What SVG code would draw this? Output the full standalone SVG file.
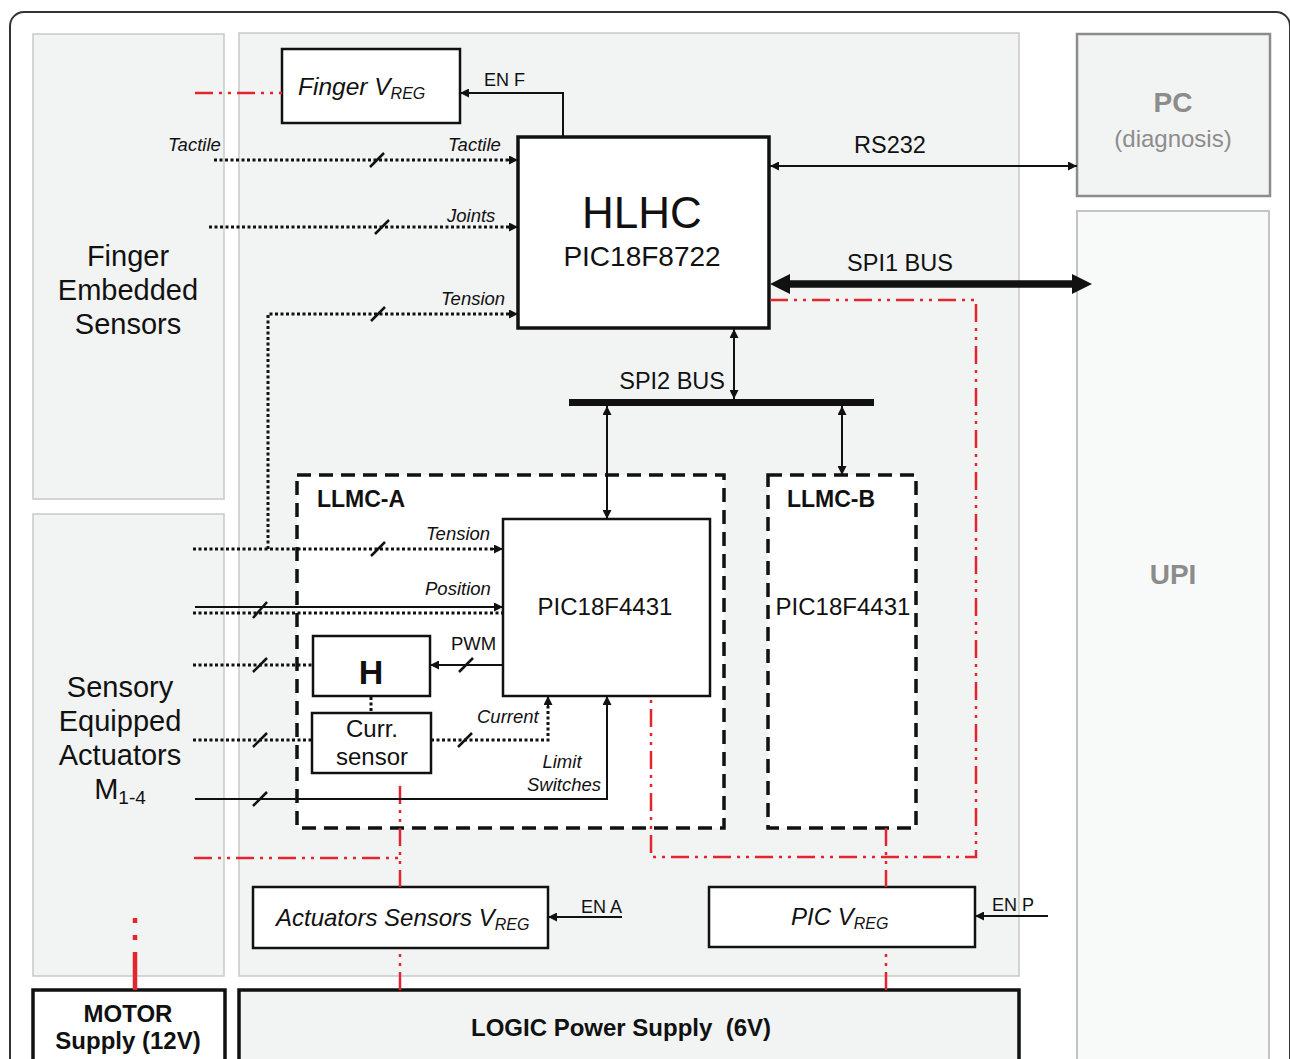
<svg xmlns="http://www.w3.org/2000/svg" width="1290" height="1059" viewBox="0 0 1290 1059">
<defs>
<marker id="arr" viewBox="0 0 10 10" refX="10" refY="5" markerWidth="9" markerHeight="9" markerUnits="userSpaceOnUse" orient="auto-start-reverse">
<path d="M0,0 L10,5 L0,10 z" fill="#111"/>
</marker>
<style>
.panel{fill:#f2f3f3;stroke:#c9c9c9;stroke-width:1.5}
.box{fill:#fff;stroke:#111;stroke-width:2.5}
.thick{fill:#fff;stroke:#111;stroke-width:3.5}
.dash{fill:#fff;stroke:#111;stroke-width:3.5;stroke-dasharray:14 8}
.dot{fill:none;stroke:#111;stroke-width:3;stroke-dasharray:3 2.5}
.sol{fill:none;stroke:#111;stroke-width:2}
.sl{stroke:#111;stroke-width:2.5}
.red{fill:none;stroke:#e3262e;stroke-width:2.5;stroke-dasharray:18 6 3 6 3 6}
.t{font-family:"Liberation Sans",Arial,sans-serif;fill:#111}
.it{font-family:"Liberation Sans",Arial,sans-serif;font-style:italic;fill:#111;font-size:18.5px}
.b{font-weight:bold}
.g{fill:#8c8c8c}
</style>
</defs>

<rect x="10" y="12" width="1280" height="1100" rx="14" fill="#fff" stroke="#333" stroke-width="2"/>

<g id="finger-sensors">
<rect class="panel" x="33" y="34" width="191" height="465"/>
<text class="t" font-size="29" text-anchor="middle"><tspan x="128" y="266">Finger</tspan><tspan x="128" y="300">Embedded</tspan><tspan x="128" y="334">Sensors</tspan></text>
</g>
<g id="actuators-panel">
<rect class="panel" x="33" y="514" width="191" height="462"/>
<text class="t" font-size="29" text-anchor="middle"><tspan x="120" y="697">Sensory</tspan><tspan x="120" y="731">Equipped</tspan><tspan x="120" y="765">Actuators</tspan><tspan x="120" y="799">M<tspan font-size="19" dy="5">1-4</tspan></tspan></text>
</g>
<g id="main-panel">
<rect class="panel" x="239" y="33" width="780" height="943"/>
</g>
<g id="pc">
<rect x="1077" y="34" width="193" height="162" fill="#f2f3f3" stroke="#8c8c8c" stroke-width="2.5"/>
<text class="t b g" font-size="28" x="1173" y="112" text-anchor="middle">PC</text>
<text class="t g" font-size="24" x="1173" y="147" text-anchor="middle">(diagnosis)</text>
</g>
<g id="upi">
<rect x="1077" y="211" width="192" height="860" fill="#f8f9f9" stroke="#c4c4c4" stroke-width="2"/>
<text class="t b g" font-size="28" x="1173" y="584" text-anchor="middle">UPI</text>
</g>

<g id="finger-vreg">
<rect class="box" x="282" y="49" width="178" height="74"/>
<text class="t" font-style="italic" font-size="24.5" x="298" y="95">Finger V<tspan font-size="16" dy="4">REG</tspan></text>
</g>
<g id="hlhc">
<rect class="thick" x="518" y="137" width="251" height="191"/>
<text class="t" font-size="44" x="642" y="228" text-anchor="middle">HLHC</text>
<text class="t" font-size="28" x="642" y="266" text-anchor="middle">PIC18F8722</text>
</g>
<g id="llmc-a">
<rect class="dash" x="297" y="475" width="427" height="353"/>
<text class="t b" font-size="23" x="317" y="507">LLMC-A</text>
</g>
<g id="pic-a">
<rect class="box" x="503" y="519" width="207" height="177"/>
<text class="t" font-size="24" x="605" y="615" text-anchor="middle">PIC18F4431</text>
</g>
<g id="hbridge">
<rect class="box" x="313" y="636" width="117" height="60"/>
<text class="t b" font-size="34" x="371" y="684" text-anchor="middle">H</text>
</g>
<g id="curr-sensor">
<rect class="box" x="312" y="713" width="119" height="60" stroke-width="2"/>
<text class="t" font-size="24" text-anchor="middle"><tspan x="372" y="737">Curr.</tspan><tspan x="372" y="765">sensor</tspan></text>
</g>
<g id="llmc-b">
<rect class="dash" x="768" y="475" width="148" height="353"/>
<text class="t b" font-size="23" x="787" y="507">LLMC-B</text>
<text class="t" font-size="24" x="843" y="615" text-anchor="middle">PIC18F4431</text>
</g>
<g id="act-vreg">
<rect class="box" x="253" y="887" width="295" height="61"/>
<text class="t" font-style="italic" font-size="24" x="276" y="926">Actuators Sensors V<tspan font-size="16" dy="4">REG</tspan></text>
</g>
<g id="pic-vreg">
<rect class="box" x="709" y="887" width="266" height="60"/>
<text class="t" font-style="italic" font-size="24" x="791" y="925">PIC V<tspan font-size="16" dy="4">REG</tspan></text>
</g>
<g id="motor-supply">
<rect class="thick" x="33" y="990" width="192" height="100"/>
<text class="t b" font-size="24" text-anchor="middle"><tspan x="128" y="1022">MOTOR</tspan><tspan x="128" y="1049">Supply (12V)</tspan></text>
</g>
<g id="logic-supply">
<rect class="thick" x="239" y="990" width="780" height="100" style="fill:#f2f3f3"/>
<text class="t b" font-size="24" x="621" y="1036" text-anchor="middle" xml:space="preserve">LOGIC Power Supply  (6V)</text>
</g>

<g id="connectors">
<line class="red" x1="195" y1="93" x2="282" y2="93"/>
<polyline class="red" points="770,300 976,300 976,857 651,857 651,696"/>
<line class="red" x1="886" y1="828" x2="886" y2="887"/>
<line class="red" x1="886" y1="990" x2="886" y2="948"/>
<polyline class="red" points="194,858 400,858"/>
<line class="red" x1="400" y1="786" x2="400" y2="887"/>
<line class="red" x1="400" y1="990" x2="400" y2="948"/>
<line x1="135" y1="990" x2="135" y2="908" stroke="#e3262e" stroke-width="4.5" stroke-dasharray="38 12 5 12 5 30"/>

<polyline class="sol" points="563,137 563,93 460,93" marker-end="url(#arr)"/>
<text class="t" font-size="18" x="484" y="86">EN F</text>
<line class="sol" x1="622" y1="917" x2="548" y2="917" marker-end="url(#arr)"/>
<text class="t" font-size="18" x="581" y="913">EN A</text>
<line class="sol" x1="1048" y1="916" x2="975" y2="916" marker-end="url(#arr)"/>
<text class="t" font-size="18" x="992" y="911">EN P</text>

<line class="sol" x1="770" y1="166" x2="1077" y2="166" marker-start="url(#arr)" marker-end="url(#arr)"/>
<text class="t" font-size="23.5" x="890" y="153" text-anchor="middle">RS232</text>
<line x1="788" y1="284" x2="1074" y2="284" stroke="#111" stroke-width="7.5"/>
<polygon points="770,284 790,274 790,294" fill="#111"/>
<polygon points="1092,284 1072,274 1072,294" fill="#111"/>
<text class="t" font-size="23.5" x="900" y="271" text-anchor="middle">SPI1 BUS</text>
<rect x="569" y="399" width="305" height="7" fill="#111"/>
<text class="t" font-size="23.5" x="725" y="389" text-anchor="end">SPI2 BUS</text>
<line class="sol" x1="734" y1="329" x2="734" y2="399" marker-start="url(#arr)" marker-end="url(#arr)"/>
<line class="sol" x1="607" y1="406" x2="607" y2="519" marker-start="url(#arr)" marker-end="url(#arr)"/>
<line class="sol" x1="842" y1="406" x2="842" y2="475" marker-start="url(#arr)" marker-end="url(#arr)"/>

<line class="dot" x1="214" y1="160" x2="510" y2="160"/>
<line class="sol" x1="508" y1="160" x2="518" y2="160" marker-end="url(#arr)"/>
<text class="it" x="168" y="151">Tactile</text>
<text class="it" x="448" y="151">Tactile</text>
<line class="dot" x1="209" y1="227" x2="510" y2="227"/>
<line class="sol" x1="508" y1="227" x2="518" y2="227" marker-end="url(#arr)"/>
<text class="it" x="447" y="222">Joints</text>
<polyline class="dot" points="268,549 268,314 510,314"/>
<line class="sol" x1="508" y1="314" x2="518" y2="314" marker-end="url(#arr)"/>
<text class="it" x="441" y="305">Tension</text>

<line class="dot" x1="193" y1="549" x2="495" y2="549"/>
<line class="sol" x1="493" y1="549" x2="503" y2="549" marker-end="url(#arr)"/>
<text class="it" x="426" y="540">Tension</text>
<line class="sol" x1="195" y1="607" x2="503" y2="607" marker-end="url(#arr)"/>
<line class="dot" x1="193" y1="613" x2="502" y2="613"/>
<text class="it" x="425" y="595">Position</text>
<line class="dot" x1="193" y1="665" x2="313" y2="665"/>
<line class="sol" x1="503" y1="665" x2="430" y2="665" marker-end="url(#arr)"/>
<text class="t" font-size="18.5" x="451" y="650">PWM</text>
<line class="dot" x1="371" y1="697" x2="371" y2="713"/>
<line class="dot" x1="193" y1="740" x2="312" y2="740"/>
<polyline class="dot" points="431,740 548,740 548,706"/>
<line class="sol" x1="548" y1="708" x2="548" y2="696" marker-end="url(#arr)"/>
<text class="it" x="477" y="723">Current</text>
<polyline class="sol" points="195,799 607,799 607,696" marker-end="url(#arr)"/>
<text class="it" x="562" y="768" text-anchor="middle">Limit</text>
<text class="it" x="601" y="791" text-anchor="end">Switches</text>

<line class="sl" x1="370" y1="167" x2="384" y2="153"/>
<line class="sl" x1="375" y1="234" x2="389" y2="220"/>
<line class="sl" x1="371" y1="321" x2="385" y2="307"/>
<line class="sl" x1="371" y1="556" x2="385" y2="542"/>
<line class="sl" x1="253" y1="618" x2="267" y2="602"/>
<line class="sl" x1="253" y1="672" x2="267" y2="658"/>
<line class="sl" x1="459" y1="672" x2="473" y2="658"/>
<line class="sl" x1="253" y1="747" x2="267" y2="733"/>
<line class="sl" x1="458" y1="747" x2="472" y2="733"/>
<line class="sl" x1="253" y1="806" x2="267" y2="792"/>
</g>
</svg>
